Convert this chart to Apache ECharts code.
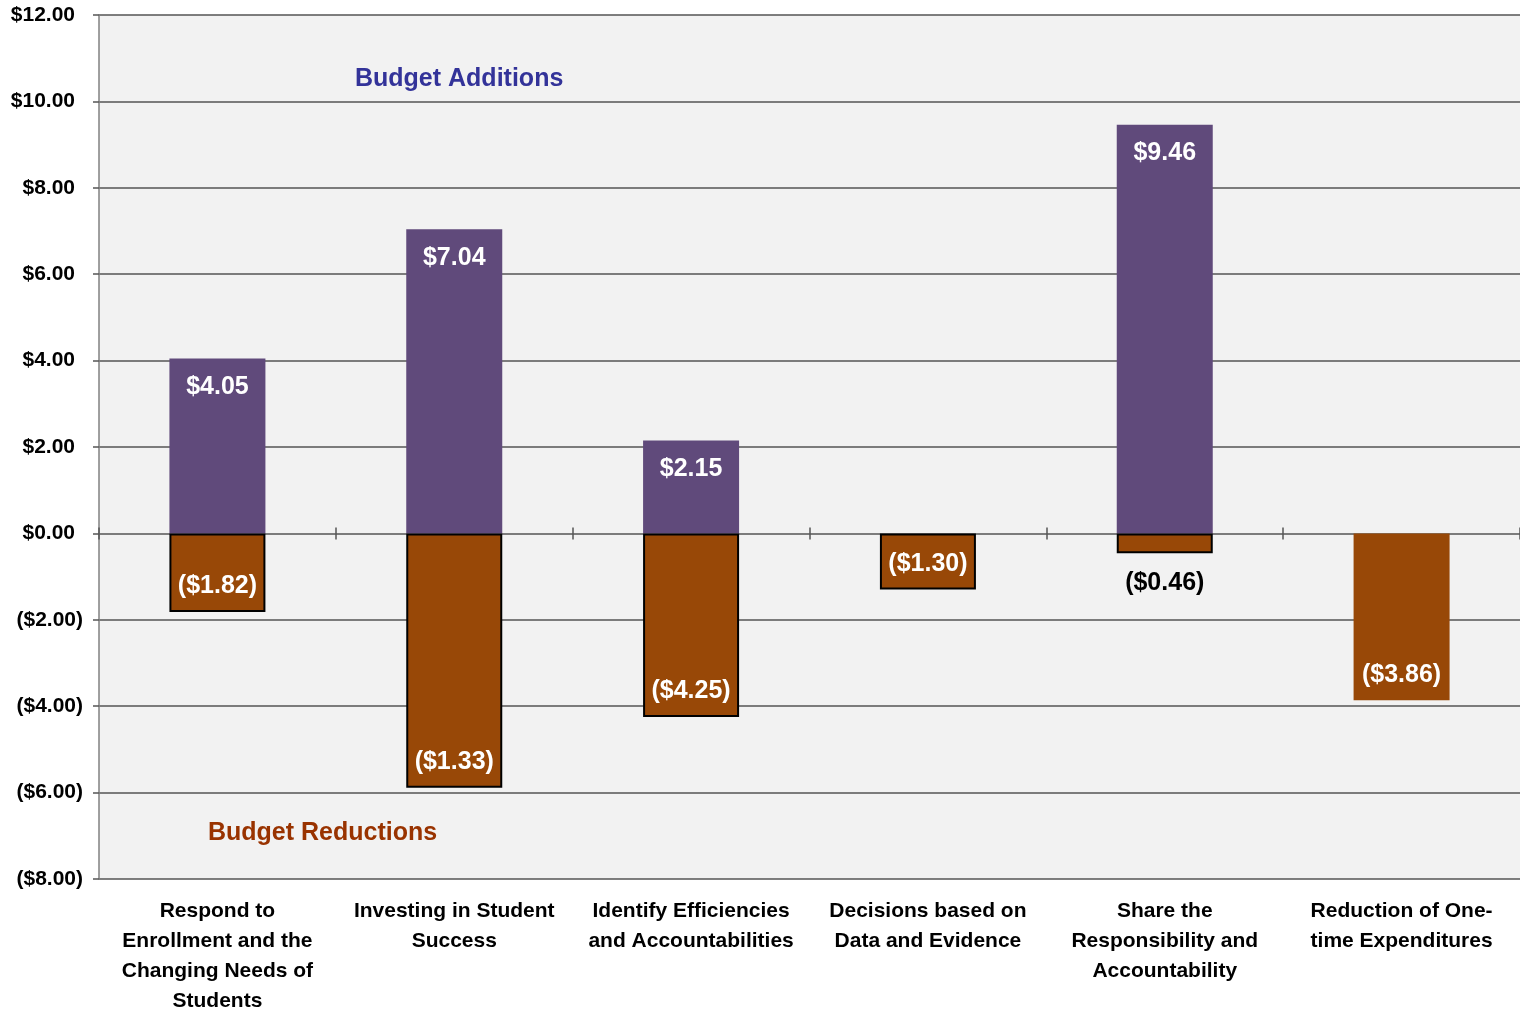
<!DOCTYPE html>
<html>
<head>
<meta charset="utf-8">
<script src="https://cdn.jsdelivr.net/npm/echarts@6/dist/echarts.min.js"></script>
<style>
  html, body { margin: 0; padding: 0; background: #fff; }
  #chart { width: 1520px; height: 1013px; }
</style>
</head>
<body>
<div id="chart"></div>
<script>
// categories (line breaks as in the picture)
var categories = [
    "Respond to\nEnrollment and the\nChanging Needs of\nStudents",
    "Investing in Student\nSuccess",
    "Identify Efficiencies\nand Accountabilities",
    "Decisions based on\nData and Evidence",
    "Share the\nResponsibility and\nAccountability",
    "Reduction of One-\ntime Expenditures"
];
var additions = [4.05, 7.04, 2.15, null, 9.46, null]; // purple bars
var reductions = [-1.82, -5.89, -4.25, -1.30, -0.46, -3.86]; // brown bars (heights as drawn)
var reductionLabels = ["($1.82)", "($1.33)", "($4.25)", "($1.30)", "($0.46)", "($3.86)"]; // printed labels
var yTicks = { min: -8, max: 12, step: 2 };

var FONT = "Liberation Sans, Arial, sans-serif";
var purple = "#604A7B";
var brown = "#984807";

var chart = echarts.init(document.getElementById("chart"));

//棕色柱子：最后一根无边框，($0.46)标签在外面
var reductionData = [];
for (var i = 0; i < reductions.length; i++) {
    var item = { value: reductions[i] };
    if (i == reductions.length - 1) {
        item.itemStyle = { borderWidth: 0 };
    }
    if (reductionLabels[i] == "($0.46)") {
        item.label = { position: "bottom", color: "#000", distance: 17 };
    }
    reductionData.push(item);
}

var tickStyle = { color: "#555", width: 1.5 };

var option = {
    animation: false,
    grid: {
        left: 99, right: 0, top: 15, bottom: 134,
        outerBoundsMode: "none", containLabel: false,
        show: true, backgroundColor: "#F2F2F2", borderWidth: 0
    },
    xAxis: [
        {
            type: "category", data: categories, position: "bottom",
            axisLine: { show: false, onZero: false },
            axisTick: { show: false },
            axisLabel: {
                interval: 0, color: "#000", fontFamily: FONT, fontWeight: "bold",
                fontSize: 21, lineHeight: 30, margin: 17
            }
        },
        {
            type: "category", data: categories, position: "bottom",
            axisLine: { show: false, onZero: true, onZeroAxisIndex: 0 },
            axisTick: { show: true, length: 6, lineStyle: tickStyle },
            axisLabel: { show: false }
        },
        {
            type: "category", data: categories, position: "bottom",
            axisLine: { show: false, onZero: true, onZeroAxisIndex: 0 },
            axisTick: { show: true, inside: true, length: 6, lineStyle: tickStyle },
            axisLabel: { show: false }
        }
    ],
    yAxis: {
        type: "value", min: yTicks.min, max: yTicks.max, interval: yTicks.step,
        axisLine: { show: true, lineStyle: { color: "#808080", width: 1.5 } },
        axisTick: { show: true, length: 6, lineStyle: tickStyle },
        splitLine: { show: true, lineStyle: { color: "#555", width: 1.5 } },
        axisLabel: {
            margin: 16, color: "#000", fontFamily: FONT, fontWeight: "bold", fontSize: 21,
            formatter: function (v) {
                if (v < 0) return "($" + (-v).toFixed(2) + ")";
                return "{p|$" + v.toFixed(2) + "}";
            },
            rich: {
                p: { color: "#000", fontFamily: FONT, fontWeight: "bold", fontSize: 21, padding: [0, 8, 0, 0] }
            }
        }
    },
    series: [
        {
            name: "Budget Additions", type: "bar", stack: "total", barWidth: 96,
            data: additions,
            itemStyle: { color: purple },
            label: {
                show: true, position: "insideTop", distance: 16,
                color: "#fff", fontFamily: FONT, fontWeight: "bold", fontSize: 25,
                formatter: function (p) { return "$" + p.value.toFixed(2); }
            }
        },
        {
            name: "Budget Reductions", type: "bar", stack: "total", barWidth: 96,
            data: reductionData,
            itemStyle: { color: brown, borderColor: "#000", borderWidth: 2 },
            label: {
                show: true, position: "insideBottom", distance: 13,
                color: "#fff", fontFamily: FONT, fontWeight: "bold", fontSize: 25,
                formatter: function (p) { return reductionLabels[p.dataIndex]; }
            }
        }
    ],
    graphic: [
        {
            type: "text", left: 355, top: 67,
            style: { text: "Budget Additions", fill: "#333399", font: "bold 25px " + FONT }
        },
        {
            type: "text", left: 208, top: 821,
            style: { text: "Budget Reductions", fill: "#993300", font: "bold 25px " + FONT }
        }
    ]
};

chart.setOption(option);
</script>
</body>
</html>
